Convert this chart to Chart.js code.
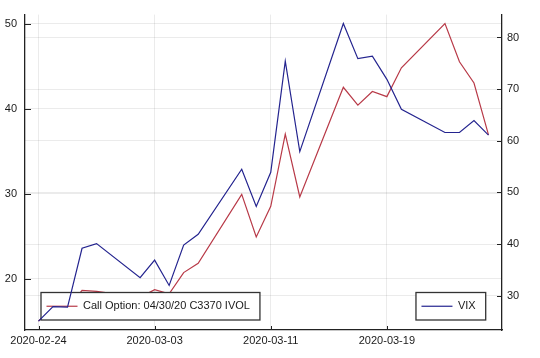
<!DOCTYPE html>
<html>
<head>
<meta charset="utf-8">
<script src="https://cdn.jsdelivr.net/npm/chart.js@4"></script>
<style>
  body { margin: 0; background: #fff; }
  canvas { display: block; }
</style>
</head>
<body>
<canvas id="chart" width="540" height="358"></canvas>
<script>
// trading days, Feb 24 - Mar 26 2020
const dates = [
    '2020-02-24', '2020-02-25', '2020-02-26', '2020-02-27', '2020-02-28',
    '2020-03-02', '2020-03-03', '2020-03-04', '2020-03-05', '2020-03-06',
    '2020-03-09', '2020-03-10', '2020-03-11', '2020-03-12', '2020-03-13',
    '2020-03-16', '2020-03-17', '2020-03-18', '2020-03-19', '2020-03-20',
    '2020-03-23', '2020-03-24', '2020-03-25', '2020-03-26'
];
const callIvol = [
    15.0, 16.65, 16.45, 18.6, 18.5,
    17.8, 18.7, 18.2, 20.7, 21.8,
    29.9, 24.9, 28.5, 37.0, 29.6,
    42.5, 40.4, 42.0, 41.4, 44.8,
    50.0, 45.5, 43.0, 36.9
];
const vix = [
    25.1, 27.9, 27.8, 39.2, 40.1,
    33.5, 36.9, 32.0, 39.8, 41.9,
    54.5, 47.3, 53.9, 75.4, 57.9,
    82.7, 75.9, 76.4, 71.9, 66.1,
    61.6, 61.6, 63.9, 61.1
];
const xTickDates = ['2020-02-24', '2020-03-03', '2020-03-11', '2020-03-19'];
const leftTicks = [20, 30, 40, 50];
const rightTicks = [30, 40, 50, 60, 70, 80];

const callLabel = 'Call Option: 04/30/20 C3370 IVOL';
const vixLabel = 'VIX';
const red = '#b83a48';
const blue = '#24248f';
const FONT = '"Liberation Sans", Arial, sans-serif';

function dayOffset(d) {
    return (Date.parse(d) - Date.parse(dates[0])) / 86400000;
}
function padRange(values) {
    const lo = Math.min(...values), hi = Math.max(...values);
    const p = (hi - lo) * 0.03;
    return { min: lo - p, max: hi + p };
}

const xs = dates.map(dayOffset);
const xRange = padRange(xs);
const leftRange = padRange(callIvol);
const rightRange = padRange(vix);

function drawLegendBox(chart, label, color, alignRight) {
    const ctx = chart.ctx;
    const area = chart.chartArea;
    ctx.save();
    ctx.font = '11px ' + FONT;
    ctx.textBaseline = 'middle';
    const w = 5.5 + 31 + 5.5 + ctx.measureText(label).width + 10;
    const left = alignRight ? area.right - 16.3 - w : area.left + 16;
    const top = area.bottom - 37.5, h = 27.5;
    ctx.fillStyle = '#fff';
    ctx.fillRect(left, top, w, h);
    ctx.strokeStyle = '#333';
    ctx.lineWidth = 1.3;
    ctx.strokeRect(left, top, w, h);
    const cy = top + h / 2;
    ctx.strokeStyle = color;
    ctx.lineWidth = 1.2;
    ctx.beginPath();
    ctx.moveTo(left + 5.5, cy);
    ctx.lineTo(left + 36.5, cy);
    ctx.stroke();
    ctx.fillStyle = '#1a1a1a';
    ctx.fillText(label, left + 42, cy);
    ctx.restore();
}

// legend of the left axis sits between the two series, as in the twin-axis original
const decorations = {
    id: 'decorations',
    afterDatasetDraw(chart, args) {
        if (args.index === 0) drawLegendBox(chart, callLabel, red, false);
    },
    afterDatasetsDraw(chart) {
        drawLegendBox(chart, vixLabel, blue, true);
        const ctx = chart.ctx;
        const area = chart.chartArea;
        const sx = chart.scales.x, yl = chart.scales.yLeft, yr = chart.scales.yRight;
        ctx.save();
        ctx.strokeStyle = '#222';
        ctx.lineWidth = 1;
        ctx.beginPath();
        xTickDates.forEach(d => {
            const px = Math.round(sx.getPixelForValue(dayOffset(d))) + 0.5;
            ctx.moveTo(px, area.bottom);
            ctx.lineTo(px, area.bottom - 4);
        });
        leftTicks.forEach(v => {
            const py = Math.round(yl.getPixelForValue(v)) + 0.5;
            ctx.moveTo(area.left, py);
            ctx.lineTo(area.left + 6, py);
        });
        rightTicks.forEach(v => {
            const py = Math.round(yr.getPixelForValue(v)) + 0.5;
            ctx.moveTo(area.right, py);
            ctx.lineTo(area.right - 5, py);
        });
        ctx.stroke();
        ctx.restore();
    }
};

const gridColor = 'rgba(0,0,0,0.08)';
const tickFont = { family: FONT, size: 11 };

new Chart(document.getElementById('chart'), {
    type: 'line',
    data: {
        datasets: [{
            label: callLabel,
            data: xs.map((x, i) => ({ x: x, y: callIvol[i] })),
            borderColor: red,
            borderWidth: 1.2,
            pointRadius: 0,
            tension: 0,
            order: 1,
            yAxisID: 'yLeft'
        }, {
            label: vixLabel,
            data: xs.map((x, i) => ({ x: x, y: vix[i] })),
            borderColor: blue,
            borderWidth: 1.2,
            pointRadius: 0,
            tension: 0,
            order: 0,
            yAxisID: 'yRight'
        }]
    },
    options: {
        responsive: false,
        animation: false,
        devicePixelRatio: 1,
        layout: { padding: { top: 5, left: 0, right: 0, bottom: 0 } },
        plugins: { legend: { display: false }, tooltip: { enabled: false } },
        scales: {
            x: {
                type: 'linear',
                min: xRange.min,
                max: xRange.max,
                afterBuildTicks: s => { s.ticks = xTickDates.map(d => ({ value: dayOffset(d) })); },
                afterFit: s => { s.height = 28; },
                ticks: {
                    font: tickFont,
                    color: '#1a1a1a',
                    padding: 4,
                    maxRotation: 0,
                    callback: (v) => xTickDates.find(d => dayOffset(d) === v) || ''
                },
                grid: { color: gridColor, drawTicks: false },
                border: { color: '#222', width: 1.3 }
            },
            yLeft: {
                position: 'left',
                min: leftRange.min,
                max: leftRange.max,
                afterBuildTicks: s => { s.ticks = leftTicks.map(v => ({ value: v })); },
                afterFit: s => { s.width = 25; },
                ticks: { font: tickFont, color: '#1a1a1a', padding: 8 },
                grid: { color: gridColor, drawTicks: false },
                border: { color: '#222', width: 1.3 }
            },
            yRight: {
                position: 'right',
                min: rightRange.min,
                max: rightRange.max,
                afterBuildTicks: s => { s.ticks = rightTicks.map(v => ({ value: v })); },
                afterFit: s => { s.width = 38; },
                ticks: { font: tickFont, color: '#1a1a1a', padding: 5 },
                grid: { color: gridColor, drawTicks: false },
                border: { color: '#222', width: 1.3 }
            }
        }
    },
    plugins: [decorations]
});
</script>
</body>
</html>
